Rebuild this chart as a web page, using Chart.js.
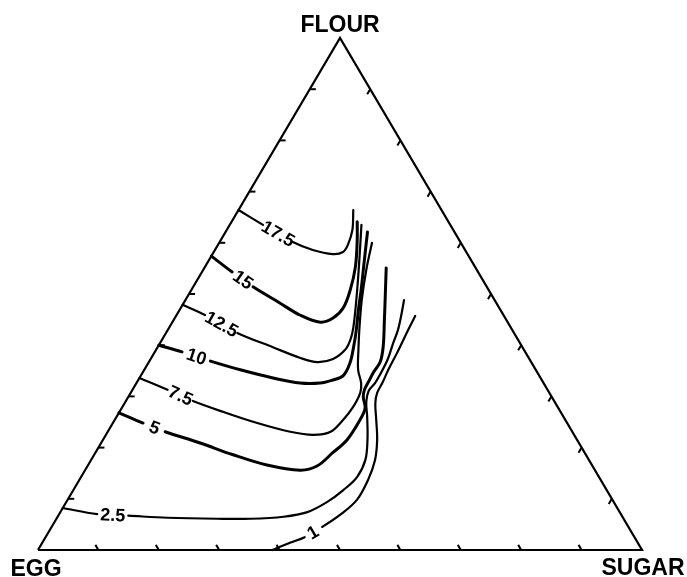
<!DOCTYPE html>
<html>
<head>
<meta charset="utf-8">
<script src="https://cdn.jsdelivr.net/npm/chart.js@4"></script>
<style>
  html, body { margin: 0; padding: 0; background: #fff; }
  #wrap { width: 687px; height: 577px; position: relative; }
</style>
</head>
<body>
<div id="wrap"><canvas id="ternaryChart"></canvas></div>
<script>
// contour points as [flour %, sugar %] (egg = 100 - flour - sugar)
const levels = ['17.5', '15', '12.5', '10', '7.5', '5', '2.5', '1'];
const c17_5 = [[66.4,0],[63.5,5.5],[60.2,12.0],[58.6,16.2],[57.8,19.9],[58.2,21.4],[59.6,21.5],[62.5,20.8],[66.4,19.0]];
const c15 = [[57.4,0],[54.3,5.0],[51.4,9.9],[48.2,16.0],[45.9,20.4],[44.5,24.5],[45.3,26.2],[47.3,26.9],[50.8,26.3],[55.3,24.9],[60.5,22.6],[64.1,20.8]];
const c12_5 = [[47.9,0],[45.9,4.7],[42.4,11.8],[39.6,19.1],[37.5,24.7],[36.7,27.9],[37.3,30.2],[39.1,31.3],[41.0,31.2],[43.4,30.5],[48.8,28.3],[55.7,25.3],[63.5,21.8]];
const c10 = [[40.0,0],[38.7,4.5],[36.9,10.1],[35.2,15.9],[33.6,22.1],[32.6,27.1],[32.6,30.4],[33.2,32.2],[34.0,33.5],[36.5,33.4],[40.0,32.3],[43.0,31.2],[46.9,29.6],[50.8,28.1],[55.7,26.1],[62.1,23.5]];
const c7_5 = [[33.6,0],[31.3,5.8],[29.1,11.1],[27.0,17.1],[24.8,23.9],[23.1,30.2],[22.5,34.3],[23.1,36.9],[25.4,37.8],[27.9,38.2],[30.7,38.0],[32.6,37.2],[35.2,35.4],[39.1,33.5],[43.0,31.7],[48.8,29.2],[54.7,27.0],[60.0,25.3]];
const c5 = [[26.8,0],[24.8,5.0],[23.1,9.5],[20.9,16.4],[18.6,23.0],[16.6,29.6],[15.6,35.6],[16.4,38.0],[19.0,39.3],[21.5,40.4],[25.4,40.6],[27.7,40.3],[29.9,38.9],[31.3,38.4],[32.8,38.3],[34.8,38.2],[36.7,38.3],[39.7,37.3],[44.9,34.9],[49.8,32.6],[55.1,30.1]];
const c2_5 = [[8.2,0],[7.0,6.3],[6.7,11.6],[6.3,18.3],[6.1,26.7],[6.1,32.1],[6.5,37.4],[7.4,40.9],[9.4,43.2],[11.7,44.7],[14.3,45.7],[17.6,45.4],[21.5,43.8],[26.0,41.5],[28.9,39.9],[31.1,39.2],[32.6,39.5],[34.2,39.5],[37.1,39.3],[40.4,38.6],[43.0,38.1],[45.9,37.2],[48.8,36.2]];
const c1 = [[0,38.8],[1.4,41.0],[2.5,42.9],[4.5,44.8],[6.9,46.6],[9.8,47.9],[13.7,47.8],[17.6,47.0],[21.5,45.4],[25.4,43.3],[28.7,41.5],[30.7,40.8],[32.6,40.7],[35.2,40.4],[38.5,40.2],[43.0,39.8],[45.7,39.6]];
const contours = [c17_5, c15, c12_5, c10, c7_5, c5, c2_5, c1];
// segment of each contour that carries its label
const labelSeg = [1, 1, 1, 1, 1, 1, 1, 2];
const ticks = [10, 20, 30, 40, 50, 60, 70, 80, 90];
const corners = ['FLOUR', 'EGG', 'SUGAR'];

// ternary -> plot space: x = sugar + flour/2, y = flour
function toXY(f, s) {
    return { x: (s + f / 2) / 100, y: f / 100 };
}

const heavy = ['15', '10', '5'];
const datasets = [];

// triangle frame
datasets.push({
    data: [toXY(0, 0), toXY(0, 100), toXY(100, 0), toXY(0, 0)],
    borderColor: '#000', borderWidth: 2.2, pointRadius: 0, tension: 0
});

// edge ticks (pairs of points, every other segment hidden)
const tl = 1.0;
const tickPts = [];
ticks.forEach(t => {
    tickPts.push(toXY(t, 0), toXY(t, tl));             // egg-flour edge
    tickPts.push(toXY(0, t), toXY(tl, t - tl));        // egg-sugar edge
    tickPts.push(toXY(t, 100 - t), toXY(t - tl, 100 - t)); // flour-sugar edge
});
datasets.push({
    data: tickPts,
    borderColor: '#000', borderWidth: 2, pointRadius: 0, tension: 0,
    segment: { borderColor: ctx => ctx.p0DataIndex % 2 === 1 ? 'rgba(0,0,0,0)' : undefined }
});

contours.forEach((c, i) => {
    const gap = labelSeg[i];
    datasets.push({
        label: levels[i],
        data: c.map(p => toXY(p[0], p[1])),
        borderColor: '#000',
        borderWidth: heavy.includes(levels[i]) ? 3.0 : 2.2,
        pointRadius: 0,
        tension: 0.35,
        borderCapStyle: 'round',
        segment: { borderColor: ctx => ctx.p0DataIndex === gap ? 'rgba(0,0,0,0)' : undefined }
    });
});

const textPlugin = {
    id: 'ternaryText',
    afterDatasetsDraw(chart) {
        const ctx = chart.ctx;
        const xs = chart.scales.x, ys = chart.scales.y;
        ctx.save();
        ctx.fillStyle = '#000';
        // contour labels, centred on their gap and turned along it
        ctx.font = 'bold 18px "Liberation Sans", Arial, sans-serif';
        ctx.textAlign = 'center';
        ctx.textBaseline = 'middle';
        contours.forEach((c, i) => {
            const pts = chart.getDatasetMeta(i + 2).data;
            const a = pts[labelSeg[i]], b = pts[labelSeg[i] + 1];
            let ang = Math.atan2(b.y - a.y, b.x - a.x);
            ctx.save();
            ctx.translate((a.x + b.x) / 2, (a.y + b.y) / 2 + 1);
            ctx.rotate(ang);
            ctx.fillText(levels[i], 0, 0);
            ctx.restore();
        });
        // corner names
        ctx.font = 'bold 23px "Liberation Sans", Arial, sans-serif';
        ctx.textBaseline = 'alphabetic';
        const top = { x: xs.getPixelForValue(0.5), y: ys.getPixelForValue(1) };
        const left = { x: xs.getPixelForValue(0), y: ys.getPixelForValue(0) };
        const right = { x: xs.getPixelForValue(1), y: ys.getPixelForValue(0) };
        ctx.fillText(corners[0], top.x, top.y - 6);
        ctx.fillText(corners[1], left.x - 2, left.y + 26);
        ctx.fillText(corners[2], right.x + 1, right.y + 25);
        ctx.restore();
    }
};

new Chart(document.getElementById('ternaryChart'), {
    type: 'scatter',
    data: { datasets: datasets.map(d => Object.assign({ showLine: true, clip: false }, d)) },
    options: {
        responsive: true,
        maintainAspectRatio: false,
        animation: false,
        layout: { padding: { left: 38, right: 45, top: 38, bottom: 27 } },
        plugins: { legend: { display: false }, tooltip: { enabled: false } },
        scales: {
            x: { type: 'linear', min: 0, max: 1, display: false },
            y: { type: 'linear', min: 0, max: 1, display: false }
        }
    },
    plugins: [textPlugin]
});
</script>
</body>
</html>
